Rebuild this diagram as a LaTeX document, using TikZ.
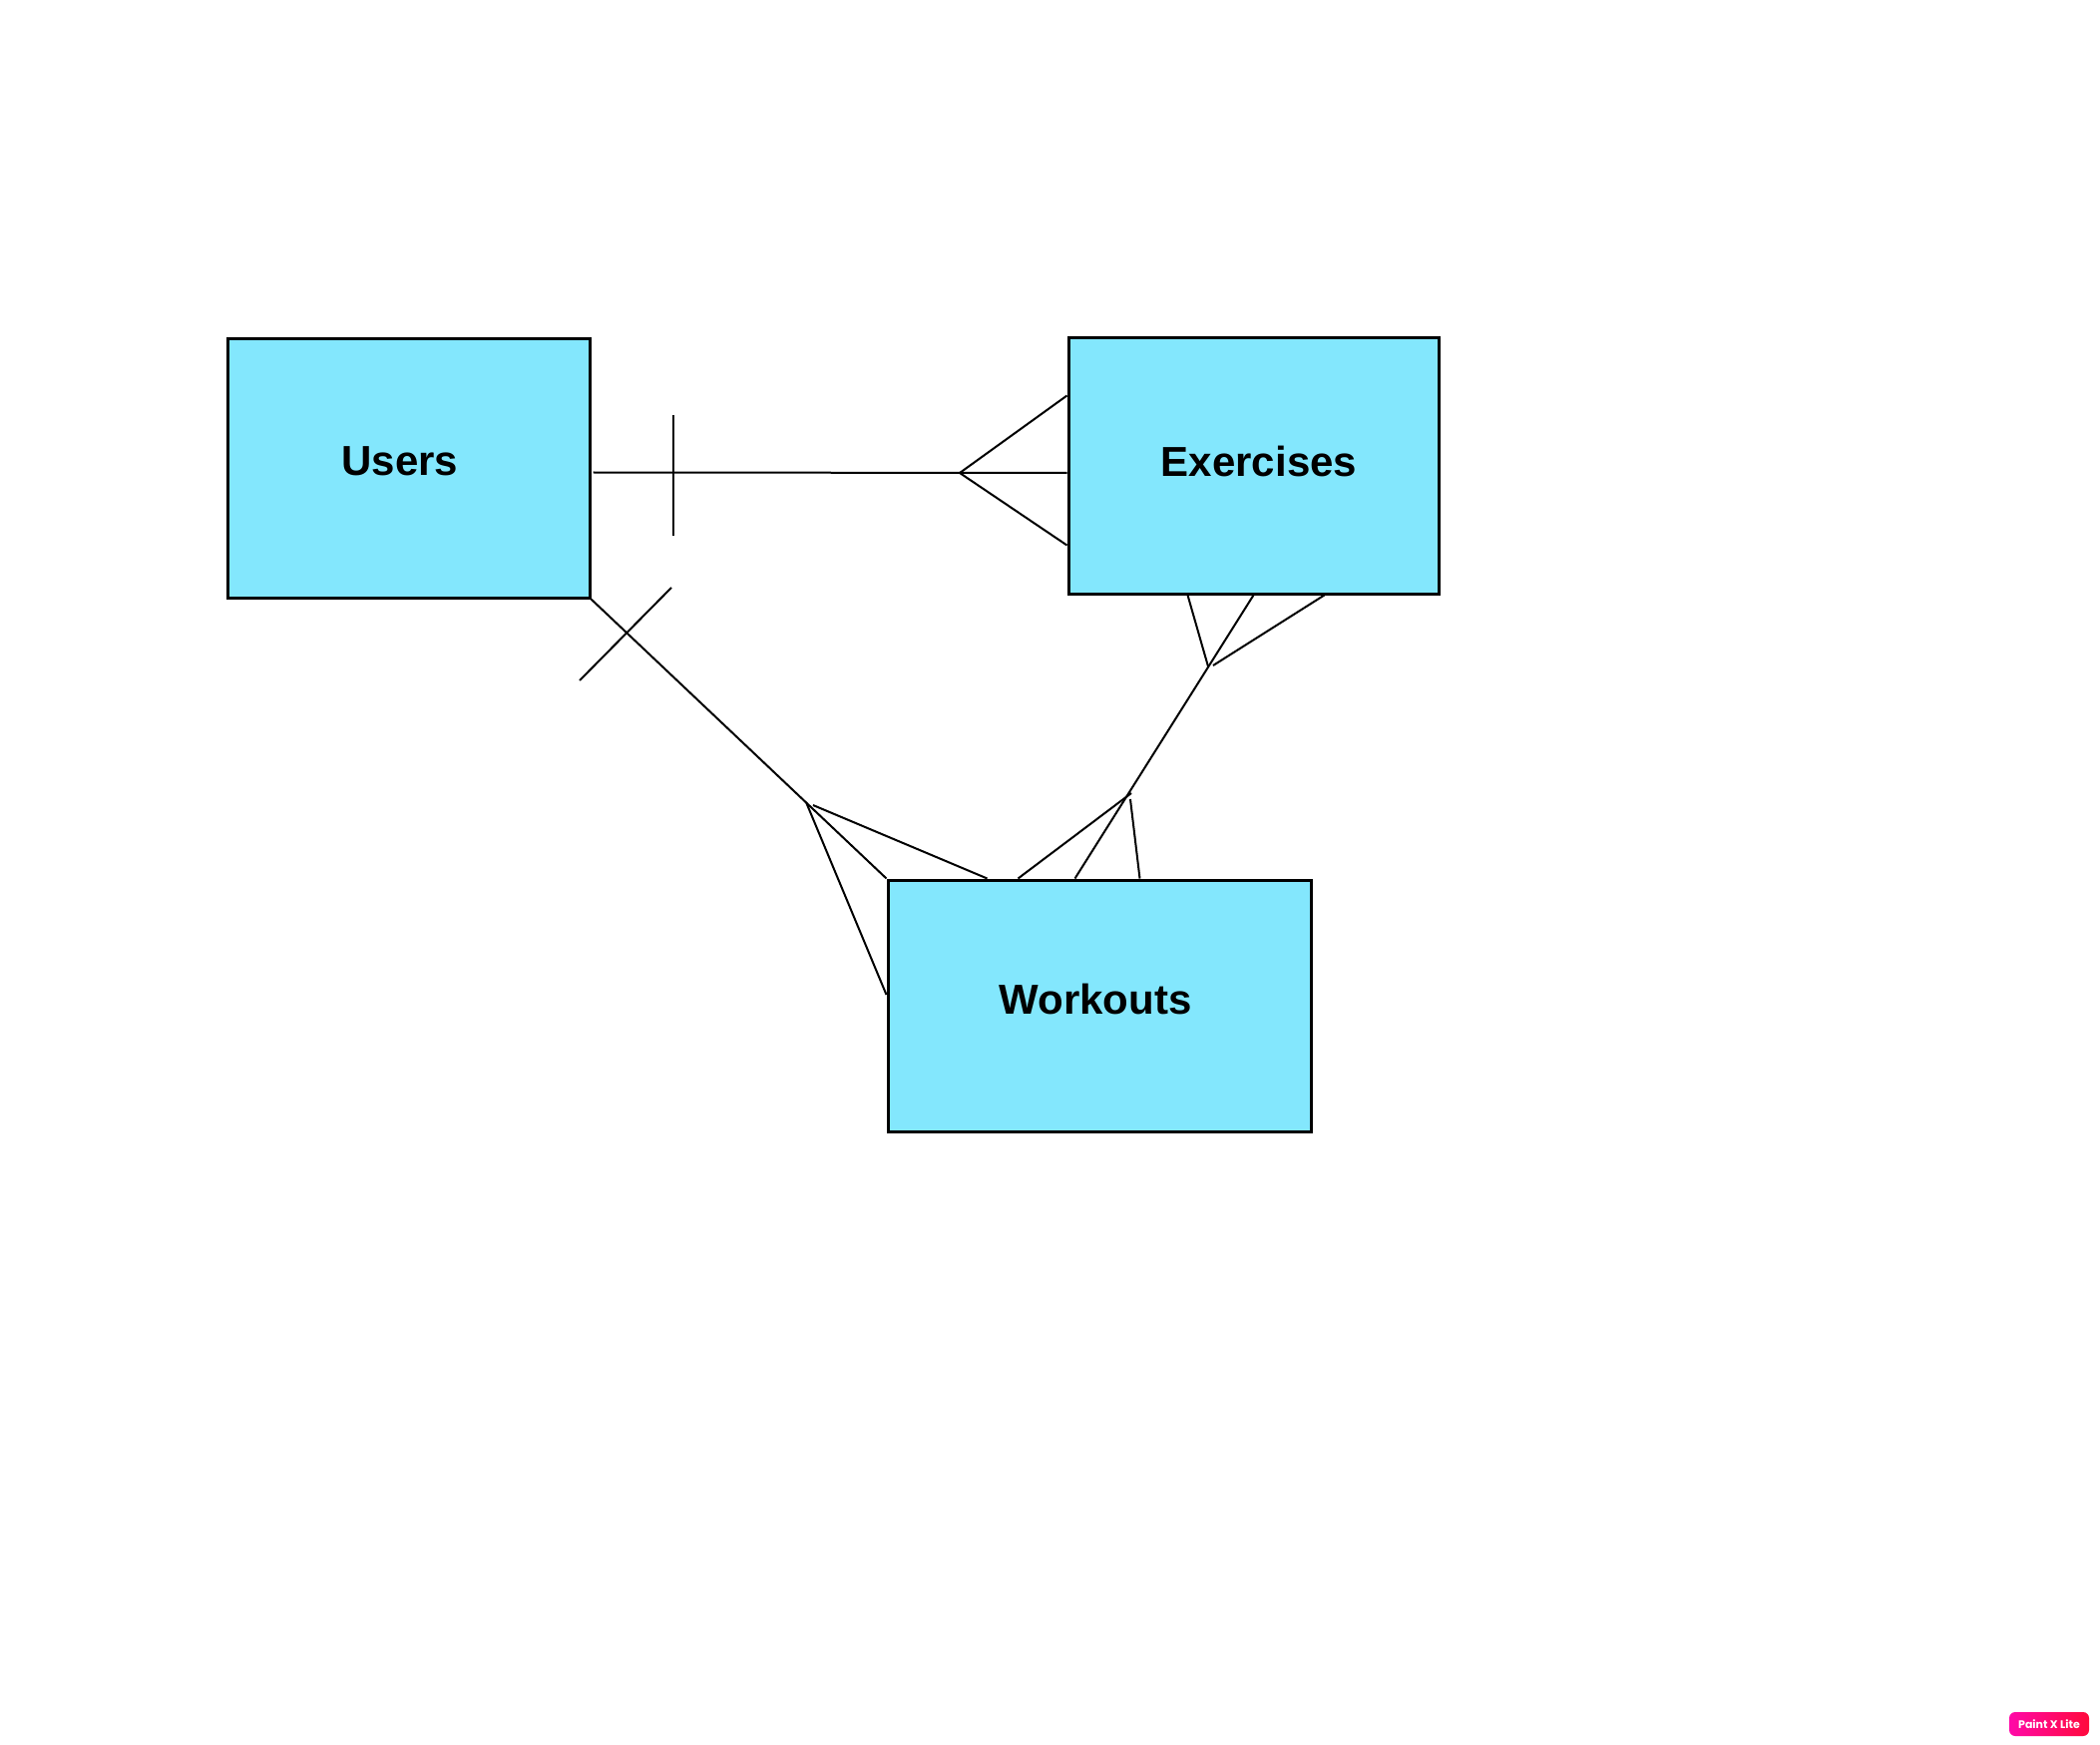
\documentclass[tikz,border=0pt]{standalone}
\usepackage{fontspec}
\setmainfont{Liberation Sans}
\newfontfamily\badgefont{Poppins}
\usetikzlibrary{calc}
\definecolor{boxfill}{HTML}{83E7FD}
\definecolor{badgeL}{HTML}{FF0AA8}
\definecolor{badgeR}{HTML}{FF0A3C}
\begin{document}
\begin{tikzpicture}[x=0.5pt,y=-0.5pt,
  entity/.style={draw=black, line width=1.5pt, fill=boxfill, rectangle, inner sep=0pt},
  lbl/.style={font=\bfseries\fontsize{21}{25}\selectfont, inner sep=0pt, text=black},
  rel/.style={line width=1pt, draw=black}]
\useasboundingbox (0,0) rectangle (2105,1749);
\fill[white] (0,0) rectangle (2105,1749);

% entities
\node[entity, minimum width=181.5pt, minimum height=129.5pt] (users) at (409.5,469.5) {};
\node[entity, minimum width=185.5pt, minimum height=128pt] (exercises) at (1256.5,467) {};
\node[entity, minimum width=212pt, minimum height=126pt] (workouts) at (1102,1008) {};
\node[lbl] (usersT) at (401,462) {Users};
\node[lbl] (exercisesT) at (1262,462) {Exercises};
\node[lbl] (workoutsT) at (1098,1001) {Workouts};

% Users -- Exercises (one to many)
\coordinate (ueA) at (962,474);
\coordinate (ueT1) at (675,416);
\coordinate (ueT2) at (675,537);
\draw[rel] ($(users.east)+(2,4)$) -- ($(exercises.west)+(0,7)$);
\draw[rel] (ueT1) -- (ueT2);
\draw[rel] ($(exercises.north west)+(0,59)$) -- (ueA) -- ($(exercises.north west)+(0,209)$);

% Users -- Workouts (one to many)
\coordinate (uwA) at (808,804);
\coordinate (uwA2) at (815,807);
\coordinate (uwX1) at (581,682);
\coordinate (uwX2) at (673,589);
\draw[rel] (users.south east) -- (workouts.north west);
\draw[rel] (uwX1) -- (uwX2);
\draw[rel] (uwA) -- ($(workouts.west)+(0,-11)$);
\draw[rel] (uwA2) -- ($(workouts.north west)+(101,0)$);

% Exercises -- Workouts (many to many)
\coordinate (ewA) at (1211,668);
\coordinate (ewA2) at (1216,667);
\coordinate (ewB) at (1134,795);
\coordinate (ewB2) at (1133,801);
\draw[rel] ($(exercises.south west)+(187,0)$) -- ($(workouts.north west)+(189,0)$);
\draw[rel] (ewA) -- ($(exercises.south west)+(121,0)$);
\draw[rel] (ewA2) -- ($(exercises.south west)+(258,0)$);
\draw[rel] (ewB) -- ($(workouts.north west)+(132,0)$);
\draw[rel] (ewB2) -- ($(workouts.north west)+(254,0)$);

% watermark badge
\node[rounded corners=3pt, minimum width=40pt, minimum height=12pt, inner sep=0pt,
  left color=badgeL, right color=badgeR, text=white,
  font=\badgefont\bfseries\fontsize{5.5}{6}\selectfont] (badge) at (2054,1728) {Paint X Lite};
\end{tikzpicture}
\end{document}
